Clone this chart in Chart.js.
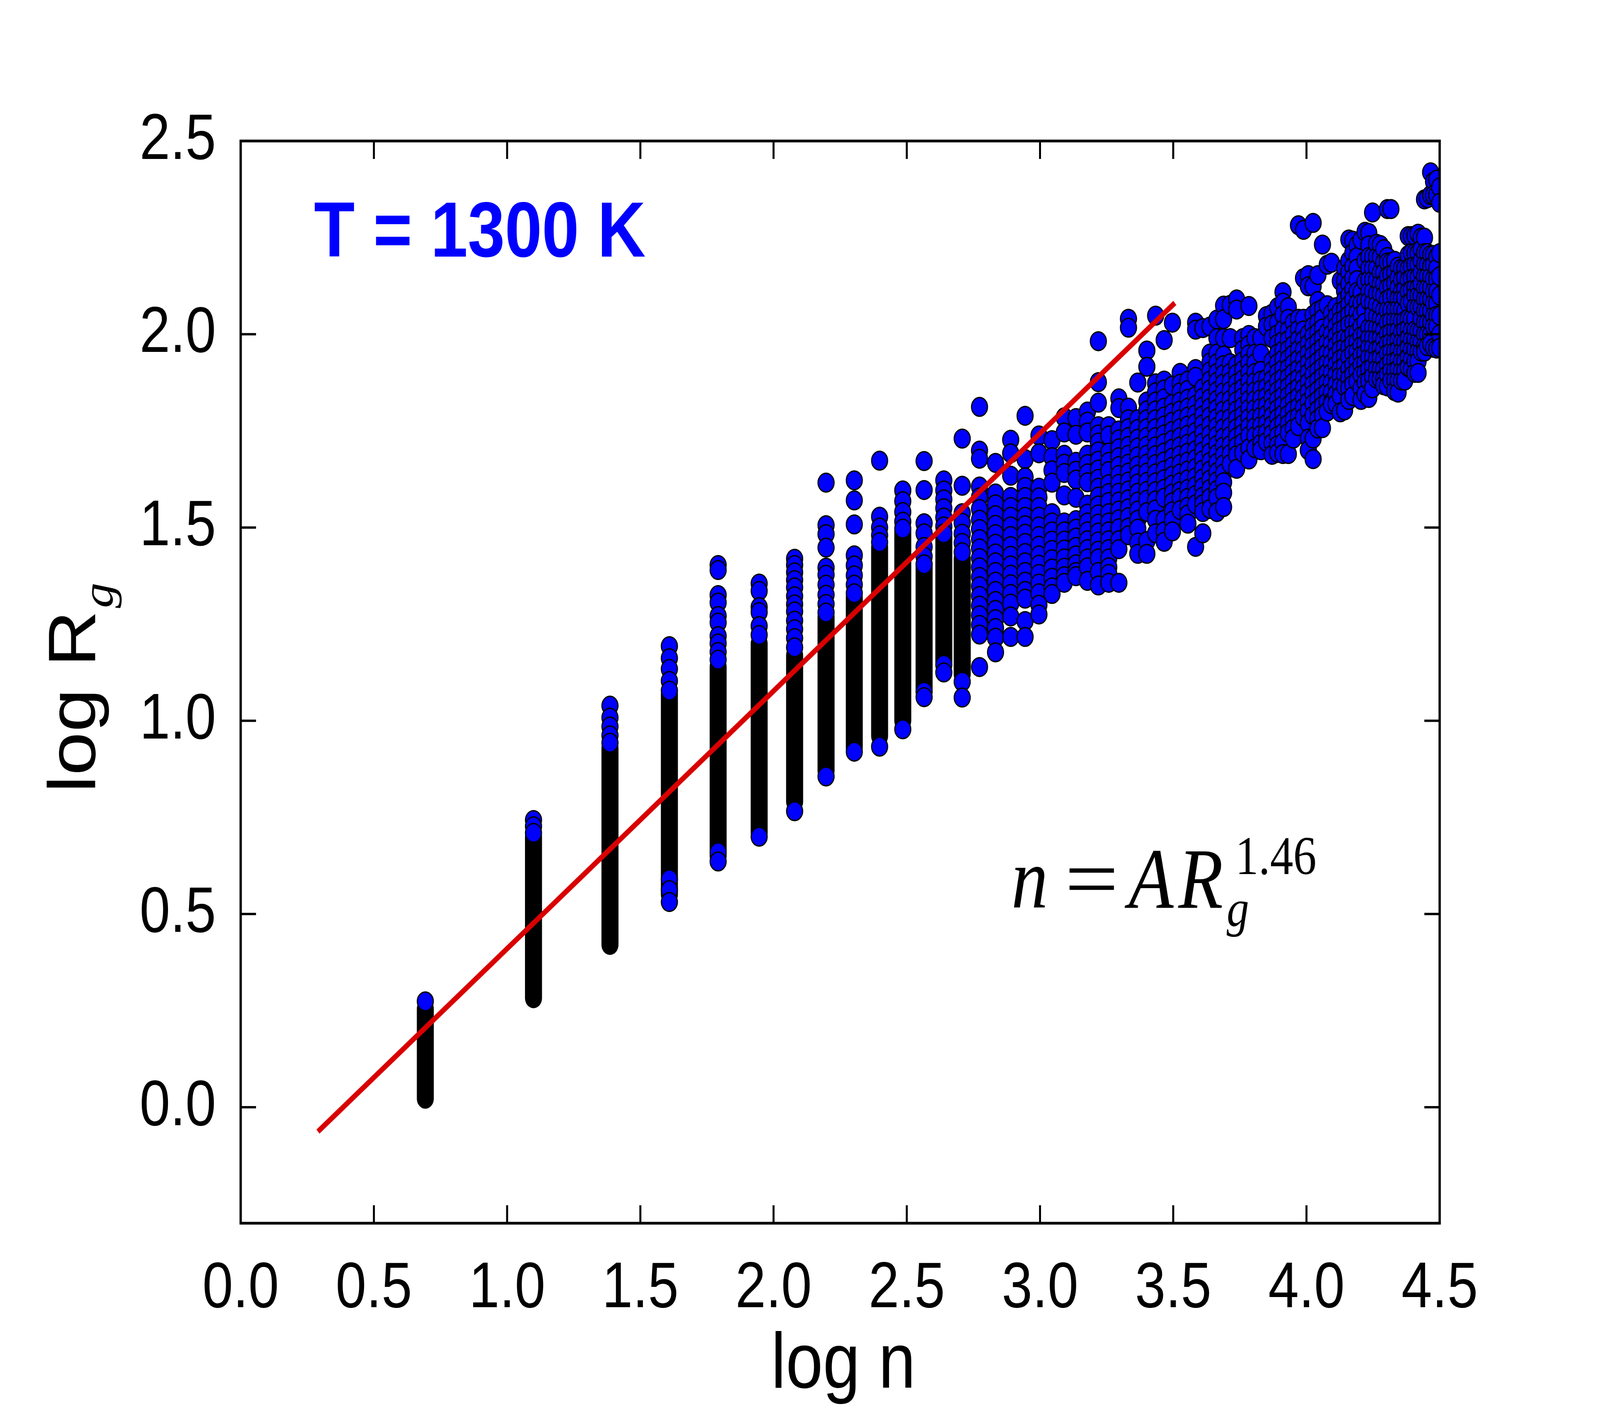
<!DOCTYPE html>
<html>
<head>
<meta charset="utf-8">
<script src="https://cdn.jsdelivr.net/npm/chart.js@4.4.0/dist/chart.umd.min.js"></script>
<style>
  html, body { margin: 0; padding: 0; background: #fff; overflow: hidden; }
  canvas { display: block; }
</style>
</head>
<body>
<!-- drawn at 4800x3600, shown stretched over whatever viewport we get -->
<canvas id="c" width="4800" height="3600" style="width:100vw;height:100vh"></canvas>
<script>
// axis ticks
const xTicks = [0, 0.5, 1, 1.5, 2, 2.5, 3, 3.5, 4, 4.5];
const yTicks = [0, 0.5, 1, 1.5, 2, 2.5];

// power-law fit line (log n, log Rg)
const fitX = [0.29, 3.506];
const fitY = [-0.063, 2.081];

// columns of clusters, one per size n (x = log n), y = log Rg
const colX = [0.693, 1.099, 1.386, 1.609, 1.792, 1.946, 2.079, 2.197, 2.303, 2.398,
  2.485, 2.565, 2.639, 2.708, 2.773, 2.833, 2.890, 2.944, 2.996, 3.045,
  3.091, 3.135, 3.178, 3.219, 3.258, 3.296, 3.332, 3.367, 3.401, 3.434,
  3.466, 3.497, 3.526, 3.555, 3.584, 3.611, 3.638, 3.664, 3.689, 3.714,
  3.738, 3.761, 3.784, 3.807, 3.829, 3.850, 3.871, 3.892, 3.912, 3.932,
  3.951, 3.970, 3.989, 4.007, 4.025, 4.043, 4.060, 4.078, 4.094, 4.111,
  4.127, 4.143, 4.159, 4.174, 4.190, 4.205, 4.220, 4.234, 4.248, 4.263,
  4.277, 4.290, 4.304, 4.317, 4.331, 4.344, 4.357, 4.369, 4.382, 4.394,
  4.407, 4.419, 4.431, 4.443, 4.454, 4.466, 4.477, 4.489, 4.500];

const colY = [
  [0.274],
  [0.743, 0.727, 0.71],
  [1.039, 1.008, 0.985, 0.962, 0.943],
  [1.193, 1.162, 1.134, 1.103, 1.078, 0.59, 0.562, 0.531],
  [1.403, 1.39, 1.325, 1.306, 1.271, 1.254, 1.219, 1.2, 1.178, 1.158, 0.66, 0.636],
  [1.355, 1.336, 1.294, 1.281, 1.245, 1.222, 0.70],
  [1.419, 1.403, 1.384, 1.364, 1.345, 1.322, 1.301, 1.283, 1.259, 1.237, 1.214, 1.19, 0.766],
  [1.616, 1.506, 1.483, 1.448, 1.396, 1.378, 1.352, 1.326, 1.302, 1.28, 0.856],
  [1.622, 1.57, 1.508, 1.428, 1.402, 1.376, 1.352, 1.33, 0.92],
  [1.673, 1.528, 1.50, 1.48, 1.462, 0.933],
  [1.596, 1.568, 1.54, 1.515, 1.497, 0.978],
  [1.672, 1.597, 1.511, 1.485, 1.45, 1.425, 1.405, 1.075, 1.061],
  [1.622, 1.596, 1.573, 1.55, 1.526, 1.503, 1.485, 1.145, 1.125],
  [1.73, 1.608, 1.537, 1.512, 1.484, 1.46, 1.436, 1.101, 1.06],
  [1.812, 1.699, 1.678, 1.606, 1.578, 1.548, 1.52, 1.496, 1.47, 1.446, 1.421, 1.397, 1.372, 1.348, 1.323, 1.298, 1.273, 1.248, 1.223, 1.139],
  [1.667, 1.588, 1.56, 1.532, 1.507, 1.483, 1.458, 1.433, 1.41, 1.385, 1.36, 1.336, 1.31, 1.287, 1.263, 1.24, 1.215, 1.177],
  [1.727, 1.692, 1.634, 1.579, 1.553, 1.528, 1.503, 1.478, 1.452, 1.427, 1.402, 1.378, 1.353, 1.328, 1.303, 1.27, 1.217],
  [1.789, 1.677, 1.63, 1.605, 1.579, 1.553, 1.528, 1.506, 1.484, 1.46, 1.434, 1.41, 1.385, 1.36, 1.336, 1.316, 1.258, 1.217],
  [1.738, 1.692, 1.603, 1.578, 1.553, 1.528, 1.503, 1.478, 1.453, 1.428, 1.404, 1.38, 1.355, 1.33, 1.30, 1.275],
  [1.726, 1.682, 1.648, 1.616, 1.537, 1.513, 1.49, 1.466, 1.442, 1.418, 1.394, 1.37, 1.345, 1.328],
  [1.785, 1.746, 1.688, 1.665, 1.641, 1.583, 1.513, 1.49, 1.466, 1.443, 1.42, 1.396, 1.374, 1.357],
  [1.783, 1.74, 1.67, 1.647, 1.624, 1.577, 1.519, 1.497, 1.474, 1.45, 1.428, 1.405, 1.385, 1.374],
  [1.80, 1.774, 1.746, 1.688, 1.664, 1.64, 1.617, 1.559, 1.536, 1.513, 1.49, 1.467, 1.444, 1.42, 1.397, 1.362],
  [1.982, 1.876, 1.823, 1.762, 1.741, 1.72, 1.697, 1.673, 1.65, 1.626, 1.603, 1.58, 1.557, 1.534, 1.51, 1.487, 1.464, 1.44, 1.42, 1.385, 1.35],
  [1.762, 1.738, 1.694, 1.67, 1.646, 1.612, 1.589, 1.566, 1.537, 1.513, 1.49, 1.467, 1.444, 1.42, 1.397, 1.38, 1.357],
  [1.834, 1.809, 1.751, 1.728, 1.705, 1.682, 1.659, 1.636, 1.613, 1.59, 1.567, 1.544, 1.521, 1.498, 1.467, 1.444, 1.357],
  [2.04, 2.017, 1.81, 1.78, 1.757, 1.734, 1.711, 1.688, 1.665, 1.642, 1.619, 1.596, 1.573, 1.55, 1.527, 1.50, 1.48],
  [1.875, 1.78, 1.755, 1.73, 1.707, 1.684, 1.66, 1.637, 1.614, 1.59, 1.567, 1.544, 1.52, 1.497, 1.461, 1.432],
  [1.958, 1.916, 1.826, 1.803, 1.78, 1.757, 1.734, 1.711, 1.688, 1.665, 1.642, 1.618, 1.595, 1.572, 1.54, 1.465, 1.432],
  [2.048, 1.873, 1.85, 1.826, 1.803, 1.78, 1.757, 1.734, 1.71, 1.687, 1.664, 1.64, 1.617, 1.594, 1.57, 1.547, 1.52, 1.485],
  [1.985, 1.88, 1.857, 1.834, 1.81, 1.787, 1.764, 1.741, 1.718, 1.694, 1.671, 1.648, 1.625, 1.60, 1.577, 1.52, 1.49, 1.463],
  [2.03, 1.867, 1.82, 1.797, 1.774, 1.75, 1.727, 1.704, 1.681, 1.658, 1.634, 1.611, 1.588, 1.565, 1.542, 1.518, 1.49],
  [1.90, 1.872, 1.85, 1.826, 1.803, 1.78, 1.757, 1.734, 1.71, 1.687, 1.664, 1.64, 1.617, 1.594, 1.577, 1.545],
  [1.88, 1.856, 1.833, 1.81, 1.787, 1.764, 1.74, 1.717, 1.694, 1.671, 1.648, 1.625, 1.60, 1.577, 1.554, 1.534, 1.51],
  [2.03, 2.012, 1.91, 1.89, 1.84, 1.817, 1.793, 1.77, 1.747, 1.724, 1.70, 1.677, 1.654, 1.63, 1.607, 1.584, 1.56, 1.45],
  [2.016, 1.86, 1.836, 1.813, 1.79, 1.767, 1.743, 1.72, 1.697, 1.674, 1.65, 1.627, 1.604, 1.58, 1.56, 1.54, 1.485],
  [2.02, 1.95, 1.927, 1.904, 1.88, 1.857, 1.834, 1.81, 1.787, 1.764, 1.74, 1.717, 1.694, 1.67, 1.647, 1.624, 1.60, 1.577, 1.548],
  [2.038, 1.99, 1.95, 1.925, 1.9, 1.877, 1.853, 1.83, 1.807, 1.783, 1.76, 1.737, 1.713, 1.69, 1.667, 1.643, 1.62, 1.597, 1.577, 1.54],
  [2.074, 2.039, 1.99, 1.945, 1.92, 1.897, 1.873, 1.85, 1.827, 1.803, 1.78, 1.757, 1.733, 1.71, 1.687, 1.663, 1.64, 1.617, 1.59, 1.553],
  [2.076, 1.99, 1.925, 1.9, 1.877, 1.853, 1.83, 1.807, 1.783, 1.76, 1.737, 1.713, 1.69, 1.664],
  [2.09, 2.064, 1.92, 1.897, 1.873, 1.85, 1.827, 1.803, 1.78, 1.757, 1.733, 1.71, 1.687, 1.652],
  [1.99, 1.96, 1.93, 1.907, 1.883, 1.86, 1.837, 1.813, 1.79, 1.767, 1.743, 1.72, 1.693],
  [2.073, 1.998, 1.972, 1.948, 1.925, 1.9, 1.877, 1.853, 1.83, 1.807, 1.783, 1.76, 1.737, 1.705, 1.676],
  [1.99, 1.95, 1.925, 1.9, 1.877, 1.853, 1.83, 1.807, 1.783, 1.76, 1.737, 1.705],
  [1.99, 1.95, 1.905, 1.88, 1.857, 1.833, 1.81, 1.787, 1.763, 1.74, 1.717, 1.70],
  [2.047, 2.02, 1.885, 1.862, 1.838, 1.815, 1.792, 1.768, 1.745, 1.722],
  [2.053, 2.025, 1.99, 1.93, 1.905, 1.882, 1.858, 1.835, 1.812, 1.788, 1.765, 1.742, 1.718, 1.688],
  [2.07, 2.03, 2.0, 1.975, 1.95, 1.925, 1.9, 1.877, 1.853, 1.83, 1.807, 1.783, 1.76, 1.737, 1.713, 1.693],
  [2.109, 2.082, 2.05, 2.012, 1.983, 1.958, 1.935, 1.91, 1.887, 1.863, 1.84, 1.817, 1.793, 1.77, 1.745, 1.72, 1.69],
  [2.07, 2.04, 2.01, 1.985, 1.96, 1.936, 1.912, 1.888, 1.864, 1.84, 1.816, 1.792, 1.768, 1.745, 1.69],
  [2.03, 2.0, 1.972, 1.948, 1.924, 1.9, 1.876, 1.852, 1.828, 1.804, 1.78, 1.756, 1.73],
  [2.282, 2.04, 2.012, 1.986, 1.96, 1.935, 1.91, 1.886, 1.862, 1.838, 1.812, 1.787, 1.762],
  [2.27, 2.145, 2.04, 2.01, 1.985, 1.96, 1.935, 1.91, 1.885, 1.86, 1.835, 1.81, 1.785],
  [2.153, 2.124, 2.0, 1.975, 1.95, 1.925, 1.90, 1.875, 1.85, 1.825, 1.80, 1.77, 1.73, 1.70],
  [2.288, 2.124, 2.05, 2.02, 1.995, 1.97, 1.945, 1.92, 1.895, 1.87, 1.845, 1.82, 1.79, 1.73, 1.677],
  [2.153, 2.086, 2.06, 2.03, 2.005, 1.98, 1.955, 1.93, 1.905, 1.88, 1.855, 1.83, 1.805, 1.78, 1.756],
  [2.232, 2.066, 2.04, 2.015, 1.99, 1.965, 1.94, 1.915, 1.89, 1.865, 1.84, 1.815, 1.79, 1.757],
  [2.18, 2.075, 2.005, 1.978, 1.951, 1.925, 1.9, 1.875, 1.85, 1.825, 1.80],
  [2.185, 2.054, 2.028, 2.0, 1.975, 1.95, 1.925, 1.9, 1.875, 1.85, 1.825, 1.819],
  [2.07, 2.045, 2.02, 1.995, 1.97, 1.945, 1.92, 1.895, 1.87, 1.845, 1.82],
  [2.138, 2.06, 2.035, 2.01, 1.985, 1.96, 1.935, 1.91, 1.892, 1.865, 1.84, 1.798],
  [2.17, 2.138, 2.112, 2.088, 2.064, 2.04, 2.016, 1.99, 1.966, 1.942, 1.918, 1.894, 1.865, 1.803],
  [2.245, 2.19, 2.16, 2.13, 2.10, 2.075, 2.05, 2.025, 1.99, 1.965, 1.94, 1.91, 1.885, 1.86, 1.83],
  [2.242, 2.21, 2.175, 2.145, 2.115, 2.09, 2.06, 2.03, 2.0, 1.975, 1.95, 1.92, 1.895, 1.87, 1.84],
  [2.23, 2.20, 2.17, 2.14, 2.11, 2.08, 2.055, 2.031, 2.005, 1.98, 1.955, 1.93, 1.905, 1.878],
  [2.244, 2.108, 2.08, 2.05, 2.02, 1.995, 1.97, 1.945, 1.92, 1.895, 1.86, 1.83],
  [2.265, 2.19, 2.136, 2.086, 2.06, 2.03, 2.0, 1.975, 1.95, 1.925, 1.90, 1.875, 1.845],
  [2.262, 2.23, 2.2, 2.17, 2.14, 2.11, 2.086, 2.016, 1.99, 1.965, 1.94, 1.91, 1.88, 1.835],
  [2.315, 2.2, 2.17, 2.14, 2.11, 2.08, 2.05, 2.016, 1.99, 1.965, 1.94, 1.915, 1.89, 1.86],
  [2.234, 2.20, 2.17, 2.14, 2.105, 2.075, 2.045, 2.016, 1.99, 1.96, 1.935, 1.91, 1.885],
  [2.231, 2.2, 2.159, 2.13, 2.105, 2.07, 2.04, 2.015, 1.99, 1.965, 1.94, 1.91, 1.885],
  [2.22, 2.186, 2.159, 2.13, 2.10, 2.062, 2.035, 2.01, 1.985, 1.96, 1.935, 1.91, 1.885, 1.868],
  [2.324, 2.2, 2.186, 2.15, 2.12, 2.09, 2.062, 2.03, 2.0, 1.975, 1.95, 1.92, 1.895, 1.865],
  [2.324, 2.186, 2.155, 2.125, 2.095, 2.062, 2.035, 2.005, 1.98, 1.955, 1.93, 1.905, 1.88],
  [2.19, 2.16, 2.132, 2.10, 2.062, 2.035, 2.008, 1.98, 1.955, 1.93, 1.905, 1.88, 1.853],
  [2.175, 2.145, 2.12, 2.093, 2.065, 2.035, 2.01, 1.985, 1.96, 1.935, 1.91, 1.88, 1.849],
  [2.17, 2.14, 2.11, 2.093, 2.065, 2.035, 2.005, 1.98, 1.955, 1.93, 1.905, 1.88],
  [2.17, 2.145, 2.115, 2.093, 2.06, 2.035, 2.01, 1.98, 1.955, 1.93, 1.905, 1.88],
  [2.254, 2.205, 2.17, 2.14, 2.11, 2.08, 2.04, 2.015, 1.99, 1.965, 1.94, 1.915],
  [2.254, 2.21, 2.175, 2.145, 2.115, 2.085, 2.04, 2.01, 1.985, 1.96, 1.935, 1.91],
  [2.255, 2.21, 2.18, 2.148, 2.12, 2.10, 2.07, 2.04, 2.01, 1.985, 1.96, 1.93, 1.90],
  [2.26, 2.21, 2.18, 2.148, 2.12, 2.10, 2.07, 2.009, 1.98, 1.955, 1.93, 1.90],
  [2.25, 2.22, 2.19, 2.16, 2.13, 2.10, 2.07, 2.04, 2.009, 1.98, 1.955],
  [2.349, 2.25, 2.21, 2.18, 2.15, 2.12, 2.09, 2.06, 2.03, 2.0, 1.969, 1.955],
  [2.352, 2.21, 2.18, 2.15, 2.12, 2.09, 2.06, 2.03, 2.0, 1.969],
  [2.419, 2.36, 2.205, 2.175, 2.148, 2.12, 2.09, 2.06, 2.03, 2.0, 1.975],
  [2.395, 2.36, 2.205, 2.18, 2.143, 2.11, 2.08, 2.047, 2.02, 1.965],
  [2.40, 2.36, 2.20, 2.17, 2.143, 2.11, 2.08, 2.048, 2.02, 1.963],
  [2.38, 2.34, 2.21, 2.15, 2.10, 2.048, 2.0, 1.965]
];

// stretches of small-n columns where markers pile up into a solid black bar
const coreX  = [0.693, 1.099, 1.386, 1.609, 1.792, 1.946, 2.079, 2.197, 2.303, 2.398, 2.485, 2.565, 2.639, 2.708];
const coreLo = [0.022, 0.282, 0.42, 0.55, 0.65, 0.71, 0.79, 0.87, 0.93, 0.96, 1.0, 1.08, 1.15, 1.12];
const coreHi = [0.255, 0.70, 0.93, 1.07, 1.14, 1.20, 1.17, 1.27, 1.32, 1.45, 1.49, 1.40, 1.48, 1.42];

const points = [];
colX.forEach((x, i) => colY[i].forEach(y => points.push({ x, y })));

const coreData = [];
coreX.forEach((x, i) => {
  coreData.push({ x, y: coreLo[i] }, { x, y: coreHi[i] }, { x, y: null });
});

const fitData = fitX.map((x, i) => ({ x, y: fitY[i] }));

const SANS = '"Liberation Sans", Arial, sans-serif';
const SERIF = '"Liberation Serif", "Times New Roman", serif';

// frame with inward ticks on all four sides, plus the annotations
const decor = {
  id: 'decor',
  afterDraw(chart) {
    const { ctx, chartArea: a, scales: { x, y } } = chart;
    ctx.save();
    ctx.strokeStyle = '#000';
    ctx.lineWidth = 7;
    ctx.strokeRect(a.left, a.top, a.right - a.left, a.bottom - a.top);
    ctx.lineWidth = 6;
    ctx.beginPath();
    xTicks.forEach(v => {
      const p = x.getPixelForValue(v);
      ctx.moveTo(p, a.bottom); ctx.lineTo(p, a.bottom - 46);
      ctx.moveTo(p, a.top); ctx.lineTo(p, a.top + 46);
    });
    yTicks.forEach(v => {
      const p = y.getPixelForValue(v);
      ctx.moveTo(a.left, p); ctx.lineTo(a.left + 46, p);
      ctx.moveTo(a.right, p); ctx.lineTo(a.right - 46, p);
    });
    ctx.stroke();

    ctx.textBaseline = 'alphabetic';
    ctx.textAlign = 'left';

    // temperature label
    ctx.fillStyle = '#0000FF';
    ctx.font = 'bold 200px ' + SANS;
    ctx.fillText('T = 1300 K', 942, 657);

    // axis titles
    ctx.fillStyle = '#000';
    ctx.font = '200px ' + SANS;
    ctx.textAlign = 'center';
    ctx.fillText('log n', 2530, 3553);

    ctx.save();
    ctx.translate(285, 2030);
    ctx.rotate(-Math.PI / 2);
    ctx.textAlign = 'left';
    ctx.fillText('log R', 0, 0);
    const w = ctx.measureText('log R').width;
    ctx.font = 'italic 130px ' + SERIF;
    ctx.fillText('g', w + 6, 52);
    ctx.restore();

    // fit equation n = A Rg^1.46
    ctx.textAlign = 'left';
    ctx.font = 'italic 220px ' + SERIF;
    ctx.fillText('n', 3034, 2324);
    ctx.fillText('A', 3386, 2324);
    ctx.fillText('R', 3535, 2324);
    ctx.save();
    ctx.translate(3275, 2324);
    ctx.scale(1.3, 1);
    ctx.textAlign = 'center';
    ctx.font = '220px ' + SERIF;
    ctx.fillText('=', 0, 0);
    ctx.restore();
    ctx.font = '139px ' + SERIF;
    ctx.fillText('1.46', 3706, 2238);
    ctx.font = 'italic 134px ' + SERIF;
    ctx.fillText('g', 3680, 2371);
    ctx.restore();
  }
};

new Chart(document.getElementById('c'), {
  type: 'scatter',
  data: {
    datasets: [
      {
        type: 'line',
        data: fitData,
        borderColor: '#D90000',
        borderWidth: 14,
        pointRadius: 0,
        fill: false,
        order: 0
      },
      {
        type: 'scatter',
        data: points,
        pointRadius: 24,
        pointBorderWidth: 3.5,
        backgroundColor: '#0000FF',
        borderColor: '#000000',
        clip: 0,
        order: 1
      },
      {
        type: 'line',
        data: coreData,
        borderColor: '#000000',
        borderWidth: 51,
        borderCapStyle: 'round',
        pointRadius: 0,
        spanGaps: false,
        fill: false,
        order: 2
      }
    ]
  },
  options: {
    responsive: false,
    animation: false,
    devicePixelRatio: 1,
    layout: { padding: { left: 0, top: 361, right: 481, bottom: 0 } },
    plugins: { legend: { display: false }, tooltip: { enabled: false } },
    scales: {
      x: {
        type: 'linear',
        min: 0,
        max: 4.5,
        grid: { display: false },
        border: { display: false },
        afterBuildTicks: axis => { axis.ticks = xTicks.map(v => ({ value: v })); },
        afterFit: axis => { axis.height = 468; },
        ticks: {
          font: { family: SANS, size: 165 },
          color: '#000',
          padding: 62,
          maxRotation: 0,
          autoSkip: false,
          callback: v => v.toFixed(1)
        }
      },
      y: {
        type: 'linear',
        min: -0.3,
        max: 2.5,
        grid: { display: false },
        border: { display: false },
        afterBuildTicks: axis => { axis.ticks = yTicks.map(v => ({ value: v })); },
        afterFit: axis => { axis.width = 722; },
        ticks: {
          font: { family: SANS, size: 165 },
          color: '#000',
          padding: 66,
          autoSkip: false,
          callback: v => v.toFixed(1)
        }
      }
    }
  },
  plugins: [decor]
});
</script>
</body>
</html>
